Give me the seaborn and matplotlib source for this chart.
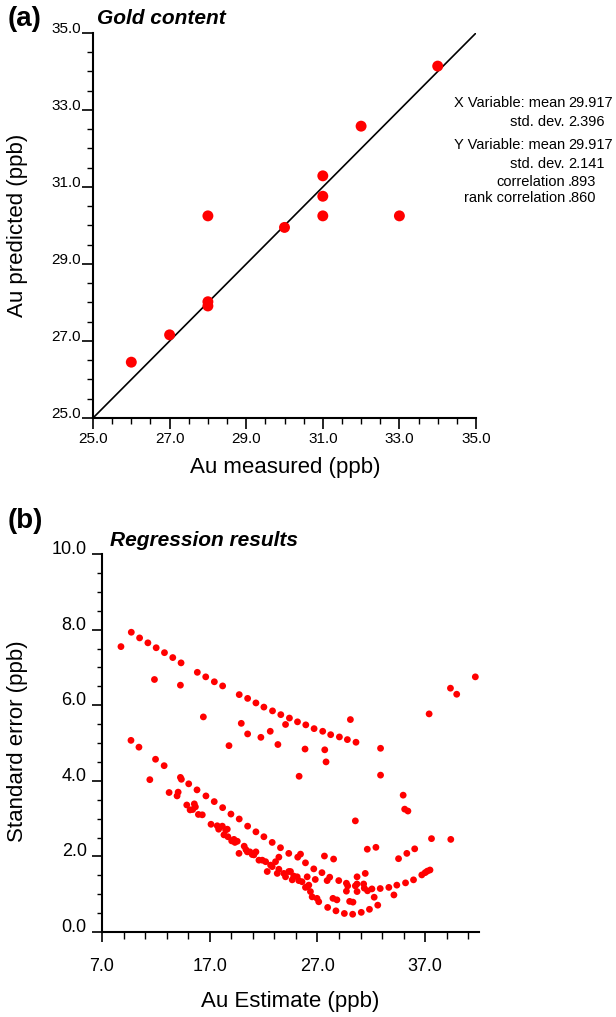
import numpy as np
import matplotlib
matplotlib.use("Agg")
import matplotlib.pyplot as plt
import seaborn as sns

# ---- Panel (a): gold content, measured vs predicted ----
au_measured = [26, 27, 28, 28, 28, 30, 31, 31, 31, 32, 33, 34]
au_predicted = [26.45, 27.16, 28.02, 27.91, 30.25, 29.95, 31.29, 30.76, 30.25, 32.58, 30.25, 34.14]
diag = [25.0, 35.0]
a_ticks = [25.0, 27.0, 29.0, 31.0, 33.0, 35.0]

stats_labels = ["X Variable: mean", "std. dev.", "Y Variable: mean", "std. dev.",
                "correlation", "rank correlation"]
stats_values = ["29.917", "2.396", "29.917", "2.141", ".893", ".860"]

# ---- Panel (b): regression results, estimate vs standard error ----
upper_x = [8.76, 9.72, 10.49, 11.26, 12.03, 12.80, 13.57, 14.34, 15.85, 16.63, 17.43, 18.20,
           19.74, 20.52, 21.29, 22.03, 22.83, 23.60, 24.40, 25.15, 25.92, 26.69, 27.49, 28.23,
           29.04, 29.78, 30.58]
upper_y = [7.55, 7.93, 7.78, 7.65, 7.52, 7.39, 7.26, 7.12, 6.87, 6.75, 6.62, 6.51,
           6.28, 6.18, 6.06, 5.95, 5.85, 5.75, 5.66, 5.56, 5.48, 5.38, 5.31, 5.22,
           5.16, 5.09, 5.02]

scatter_x = [11.87, 14.28, 16.41, 19.93, 20.52, 21.75, 22.62, 18.79, 23.33, 24.04, 25.85, 27.68,
             27.80, 25.30, 30.06, 30.52, 32.86, 32.86, 34.96, 35.10, 35.40, 37.37, 39.35, 39.93,
             41.66, 37.59, 39.38]
scatter_y = [6.68, 6.53, 5.69, 5.52, 5.24, 5.15, 5.31, 4.93, 4.96, 5.49, 4.84, 4.82,
             4.50, 4.12, 5.62, 2.94, 4.86, 4.15, 3.62, 3.25, 3.20, 5.77, 6.45, 6.29,
             6.75, 2.47, 2.45]

mid_x = [9.69, 10.43, 11.44, 11.97, 12.77, 14.28, 14.37, 15.05, 15.82, 16.65, 17.42, 18.20,
         18.97, 19.74, 20.52, 21.29, 22.03, 22.80, 23.57, 24.34, 25.17, 25.89, 26.66, 27.42,
         28.14, 28.98, 29.69, 30.52, 31.29, 32.06, 32.83, 33.63, 34.37, 35.18, 35.92, 36.69,
         37.00, 37.20, 37.45]
mid_y = [5.07, 4.89, 4.03, 4.57, 4.40, 4.09, 4.04, 3.92, 3.76, 3.60, 3.45, 3.29,
         3.12, 2.99, 2.80, 2.65, 2.52, 2.37, 2.23, 2.08, 1.98, 1.83, 1.67, 1.57,
         1.45, 1.36, 1.29, 1.22, 1.27, 1.14, 1.15, 1.18, 1.24, 1.30, 1.38, 1.51,
         1.57, 1.61, 1.64]

arc_x = [27.65, 28.50, 31.63, 32.43, 34.53, 35.30, 36.03, 25.43, 23.42]
arc_y = [2.01, 1.93, 2.19, 2.24, 1.94, 2.08, 2.20, 2.06, 1.98]

lower_x = [13.23, 13.97, 14.07, 14.87, 15.18, 15.42, 15.57, 15.67, 15.95, 16.31, 17.12, 17.70,
           17.83, 18.17, 18.32, 18.48, 18.63, 18.69, 19.04, 19.25, 19.34, 19.56, 19.72, 20.20,
           20.36, 20.49, 20.73, 20.94, 21.10, 21.29, 21.57, 21.88, 22.19, 22.34, 22.65, 22.80,
           23.11, 23.27, 23.42, 23.88, 24.04, 24.34, 24.50, 24.66, 24.80, 25.12, 25.27, 25.57,
           25.89, 26.05, 26.20, 26.35, 26.51, 26.96, 27.12, 27.95, 28.72, 29.50, 30.27, 31.07,
           31.83, 32.60, 32.27, 34.10]
lower_y = [3.69, 3.60, 3.70, 3.36, 3.23, 3.24, 3.39, 3.31, 3.11, 3.10, 2.85, 2.81,
           2.72, 2.80, 2.57, 2.70, 2.72, 2.52, 2.41, 2.45, 2.37, 2.40, 2.08, 2.27,
           2.18, 2.12, 2.12, 2.05, 2.04, 2.12, 1.90, 1.90, 1.86, 1.60, 1.77, 1.73,
           1.86, 1.55, 1.66, 1.55, 1.46, 1.60, 1.60, 1.38, 1.48, 1.46, 1.36, 1.33,
           1.18, 1.46, 1.24, 1.07, 0.93, 0.89, 0.80, 0.65, 0.56, 0.49, 0.47, 0.52,
           0.60, 0.71, 0.92, 0.98]

cluster_x = [26.80, 27.90, 28.44, 28.81, 29.69, 29.81, 29.99, 30.30, 30.68, 30.68, 31.44, 31.35,
             31.65, 30.67, 26.05]
cluster_y = [1.39, 1.36, 0.89, 0.85, 1.08, 1.22, 0.81, 0.79, 1.46, 1.07, 1.55, 1.16,
             1.09, 1.27, 1.20]

b_xticks = [7.0, 17.0, 27.0, 37.0]
b_yticks = [0.0, 2.0, 4.0, 6.0, 8.0, 10.0]

est_x = upper_x + scatter_x + mid_x + arc_x + lower_x + cluster_x
std_err = upper_y + scatter_y + mid_y + arc_y + lower_y + cluster_y

sns.set_theme(style="ticks")
plt.rcParams["font.family"] = ["Liberation Sans", "DejaVu Sans"]
plt.rcParams["axes.linewidth"] = 1.5
for key in ("text.color", "axes.labelcolor", "xtick.color", "ytick.color",
            "xtick.labelcolor", "ytick.labelcolor", "axes.edgecolor"):
    plt.rcParams[key] = "black"

W, H = 616, 1017
fig = plt.figure(figsize=(W / 100, H / 100), dpi=100)


def px_rect(left, top, right, bottom):
    return [left / W, 1 - bottom / H, (right - left) / W, (bottom - top) / H]


# Panel (a)
ax1 = fig.add_axes(px_rect(93, 33, 476, 418))
sns.lineplot(x=diag, y=diag, color="black", linewidth=1.2, ax=ax1)
sns.scatterplot(x=au_measured, y=au_predicted, color="#ff0000", s=62,
                edgecolor="none", ax=ax1, zorder=3, clip_on=False)
ax1.set_xlim(25, 35)
ax1.set_ylim(25, 35)
ax1.set_xticks(a_ticks)
ax1.set_yticks(a_ticks)
ax1.set_xticks(np.arange(25, 35.01, 0.5), minor=True)
ax1.set_yticks(np.arange(25, 35.01, 0.5), minor=True)
ax1.set_xticklabels([f"{t:.1f}" for t in a_ticks])
ax1.set_yticklabels([f"{t:.1f}" for t in a_ticks])
ax1.tick_params(which="major", length=8, width=1.2, labelsize=11)
ax1.tick_params(axis="y", which="major", pad=0.5)
ax1.tick_params(axis="x", which="major", pad=2)
ax1.tick_params(which="minor", length=4.5, width=1.0)
for lbl in ax1.get_yticklabels():
    lbl.set_va("baseline")
ax1.set_xlabel("")
ax1.set_ylabel("")
sns.despine(ax=ax1)

fig.text(285 / W, 1 - 468 / H, "Au measured (ppb)", fontsize=16, ha="center", va="center")
fig.text(18 / W, 1 - 225 / H, "Au predicted (ppb)", fontsize=16, ha="center", va="center",
         rotation=90)
fig.text(8 / W, 1 - 19 / H, "(a)", fontsize=20, fontweight="bold", ha="left", va="center")
fig.text(97 / W, 1 - 18 / H, "Gold content", fontsize=15, fontweight="bold", style="italic",
         ha="left", va="center")

stats_y = [103, 122, 145, 164, 182, 198]
for lab, val, yy in zip(stats_labels, stats_values, stats_y):
    fig.text(565 / W, 1 - yy / H, lab, fontsize=10.5, ha="right", va="center")
    fig.text(568 / W, 1 - yy / H, val, fontsize=10.5, ha="left", va="center")

# Panel (b)
ax2 = fig.add_axes(px_rect(102, 554, 479, 932))
sns.scatterplot(x=est_x, y=std_err, color="#ff0000", s=24, edgecolor="none",
                ax=ax2, clip_on=False)
ax2.set_xlim(7, 42)
ax2.set_ylim(0, 10)
ax2.set_xticks(b_xticks)
ax2.set_yticks(b_yticks)
ax2.set_xticks(np.arange(7, 42, 2.0), minor=True)
ax2.set_yticks(np.arange(0, 10.01, 0.5), minor=True)
ax2.set_xticklabels([f"{t:.1f}" for t in b_xticks])
ax2.set_yticklabels([f"{t:.1f}" for t in b_yticks])
ax2.tick_params(which="major", length=7, width=1.2, labelsize=13)
ax2.tick_params(axis="x", which="major", pad=12)
ax2.tick_params(axis="y", which="major", pad=4)
ax2.tick_params(axis="x", which="minor", length=5, width=1.0)
ax2.tick_params(axis="y", which="minor", length=3.5, width=1.0)
for lbl in ax2.get_yticklabels():
    lbl.set_va("baseline")
ax2.set_xlabel("")
ax2.set_ylabel("")
sns.despine(ax=ax2)

fig.text(290 / W, 1 - 1002 / H, "Au Estimate (ppb)", fontsize=16, ha="center", va="center")
fig.text(18 / W, 1 - 741 / H, "Standard error (ppb)", fontsize=16, ha="center", va="center",
         rotation=90)
fig.text(8 / W, 1 - 521 / H, "(b)", fontsize=20, fontweight="bold", ha="left", va="center")
fig.text(110 / W, 1 - 540 / H, "Regression results", fontsize=15, fontweight="bold",
         style="italic", ha="left", va="center")

fig.savefig("out.png", dpi=100, facecolor="white")
